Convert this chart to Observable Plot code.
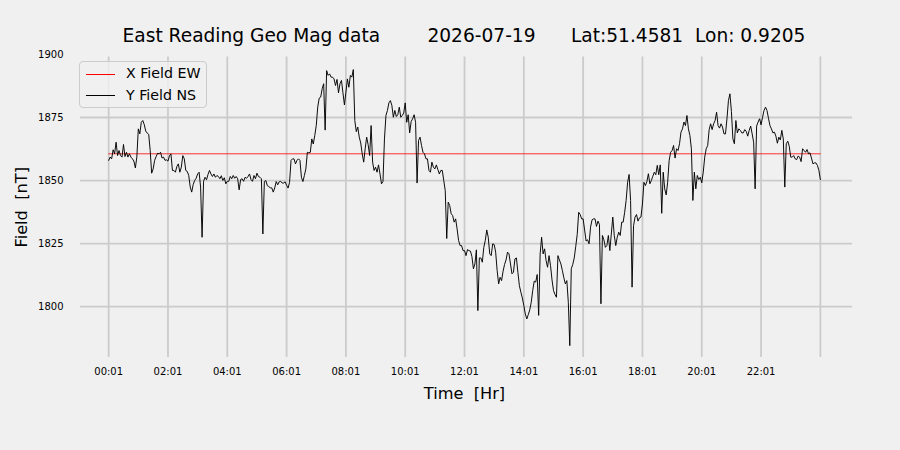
<!DOCTYPE html>
<html>
<head>
<meta charset="utf-8">
<script src="https://cdn.jsdelivr.net/npm/d3@7"></script>
<script src="https://cdn.jsdelivr.net/npm/@observablehq/plot@0.6"></script>
<style>
  html, body { margin: 0; padding: 0; background: #f0f0f0; }
  #wrap { position: relative; width: 900px; height: 450px; font-family: "DejaVu Sans", sans-serif; }
  #wrap svg text { white-space: pre; }
  #legend { position: absolute; left: 79px; top: 61px; width: 128px; height: 47px; box-sizing: border-box;
            border: 1px solid #cccccc; border-radius: 4px; background: rgba(240,240,240,0.8); }
  .row { position: absolute; left: 0; height: 20px; width: 126px; }
  .sw { position: absolute; left: 6px; width: 29px; top: 9.5px; height: 0; border-top: 1px solid; }
  .lab { position: absolute; left: 46px; top: 1px; font-size: 14.2px; line-height: 17px; color: #000; white-space: pre; }
</style>
</head>
<body>
<div id="wrap"></div>
<script>
// ---- data ----
const seriesNames = ["X Field EW", "Y Field NS"];
const seriesColors = ["#ff0000", "#000000"];
const title = "East Reading Geo Mag data        2026-07-19      Lat:51.4581  Lon: 0.9205";
const xLabel = "Time  [Hr]";
const yLabel = "Field  [nT]";

const tickMinutes = [1, 121, 241, 361, 481, 601, 721, 841, 961, 1081, 1201, 1321, 1441];
const tickLabels = ["00:01", "02:01", "04:01", "06:01", "08:01", "10:01", "12:01", "14:01", "16:01", "18:01", "20:01", "22:01", ""];
const yTicks = [1800, 1825, 1850, 1875, 1900];
const yGrid = [1800, 1825, 1850, 1875];

// X Field EW (constant over the day)
const xFieldMinutes = [1, 1441];
const xFieldEW = [1860.6, 1860.6];

// Y Field NS, one reading every 3 minutes starting 00:01
const yStartMinute = 1;
const yStepMinutes = 3;
const yFieldNS = [
1858.0,1859.3,1858.6,1862.2,1860.6,1865.2,1859.9,1861.9,1859.9,1859.3,
1864.3,1859.5,1861.2,1859.3,1860.6,1859.3,1858.6,1857.7,1855.0,1859.3,
1870.5,1868.5,1873.1,1873.8,1872.2,1869.6,1868.8,1868.3,1861.9,1852.9,
1854.6,1858.0,1859.5,1860.8,1860.6,1861.2,1858.9,1859.3,1858.0,1858.2,
1857.7,1859.8,1860.6,1854.0,1854.0,1853.3,1855.6,1856.6,1853.3,1855.3,
1859.9,1858.6,1854.0,1853.6,1852.0,1847.4,1845.4,1848.4,1850.0,1850.9,
1852.6,1853.3,1847.4,1827.5,1849.7,1851.3,1850.3,1852.4,1854.0,1852.6,
1851.6,1852.6,1851.3,1852.0,1851.6,1850.7,1851.9,1850.0,1851.1,1848.7,
1849.7,1849.7,1851.6,1850.7,1852.0,1850.9,1851.6,1850.7,1846.3,1850.4,
1850.7,1849.7,1851.3,1850.9,1851.6,1852.6,1850.4,1849.7,1852.0,1850.7,
1852.9,1851.6,1851.3,1850.7,1828.8,1849.6,1850.0,1848.0,1847.6,1847.1,
1847.1,1845.4,1847.1,1849.6,1848.3,1849.5,1849.7,1849.0,1849.0,1849.5,
1848.1,1847.0,1849.3,1858.0,1858.6,1858.6,1856.6,1858.0,1858.6,1858.0,
1851.3,1849.6,1852.0,1854.6,1861.2,1861.0,1861.2,1866.5,1864.5,1867.9,
1871.8,1879.1,1882.7,1883.1,1886.4,1888.4,1870.0,1893.6,1891.7,1892.3,
1891.0,1891.0,1890.3,1887.7,1890.1,1884.8,1888.4,1889.7,1884.8,1880.0,
1885.0,1890.3,1887.0,1891.7,1891.0,1894.0,1873.8,1869.4,1871.2,1867.2,
1864.9,1860.6,1857.3,1862.6,1867.2,1864.2,1859.9,1871.8,1857.3,1854.0,
1855.3,1853.3,1856.2,1852.6,1848.7,1849.6,1866.5,1875.8,1877.8,1880.8,
1881.7,1879.8,1875.1,1877.8,1875.4,1876.1,1879.1,1875.1,1875.8,1876.8,
1880.8,1873.1,1876.1,1868.9,1873.4,1874.5,1876.1,1873.1,1849.0,1865.9,
1867.2,1863.9,1861.2,1860.6,1858.6,1858.6,1854.0,1853.3,1857.3,1855.3,
1854.6,1856.2,1854.4,1852.6,1854.0,1854.0,1850.0,1846.0,1827.0,1841.4,
1840.1,1836.8,1836.1,1833.5,1834.8,1830.8,1826.2,1824.2,1824.2,1822.2,
1822.2,
1820.2,1822.6,1822.2,1822.0,1819.8,1815.0,1816.9,1822.5,1798.4,1819.3,
1819.3,1817.6,1823.5,1826.2,1830.4,1827.5,1820.9,1820.2,1824.9,1824.6,
1821.6,1814.3,1809.0,1811.6,1810.3,1814.0,1816.7,1818.5,1821.6,1820.9,
1816.9,1813.0,1813.6,1818.9,1819.3,1813.6,1808.3,1805.7,1803.4,1800.4,
1797.1,1795.1,1796.8,1798.7,1801.7,1806.4,1810.1,1809.7,1812.7,1796.5,
1820.9,1827.5,1820.9,1822.9,1818.3,1815.6,1820.2,1816.3,1810.6,1806.4,
1804.8,1803.7,1820.2,1818.5,1816.9,1814.3,1811.4,1809.0,1810.3,1801.7,
1784.5,1815.0,1816.7,1819.3,1823.8,1828.6,1837.4,1836.5,1834.8,1834.8,
1830.4,1826.0,1826.5,1824.9,1831.5,1834.4,1834.8,1834.8,1831.8,1833.9,
1832.6,1801.1,1828.2,1826.5,1823.5,1824.2,1828.2,1822.2,1828.8,1835.5,
1828.2,1824.2,1827.5,1829.5,1828.2,1833.5,1833.5,1837.4,1842.1,1849.3,
1852.4,1842.1,1807.7,1832.1,1835.5,1836.5,1833.9,1835.2,1835.5,1840.7,
1849.3,1848.0,
1849.6,1852.7,1848.7,1850.0,1851.7,1853.3,1852.3,1856.0,1852.3,1856.2,
1837.0,1853.3,1846.7,1844.3,1849.3,1857.9,1861.2,1861.9,1863.9,1858.9,
1862.6,1861.9,1864.6,1869.2,1870.5,1873.2,1871.8,1875.8,1870.5,1867.9,
1862.6,1842.1,1853.3,1846.7,1852.0,1850.4,1851.3,1849.1,1853.3,1859.3,
1862.6,1863.9,1870.2,1872.5,1870.2,1872.5,1873.8,1877.1,1871.8,1870.8,
1872.5,1871.2,1868.5,1868.5,1874.5,1881.7,1884.4,1877.4,1866.5,1864.6,
1873.8,1868.9,1870.5,1869.9,1868.9,1868.9,1870.2,1869.5,1867.6,1869.9,
1871.6,1868.5,1865.2,1846.7,1871.6,1873.2,1874.5,1872.1,1875.1,1877.8,
1879.1,1877.8,1874.7,1871.8,1870.5,1868.9,1869.2,1867.6,1864.8,1867.2,
1866.1,1869.9,1866.5,1847.4,1864.6,1865.6,1863.6,1859.3,1859.3,1859.9,
1858.6,1858.3,1859.7,1859.3,1857.5,1862.6,1861.9,1861.2,1862.3,1860.6,
1861.0,1858.9,1856.6,1857.0,1857.0,1856.0,1854.0,1850.4
];

// ---- tables ----
const yTable = yFieldNS.map((v, i) => ({t: yStartMinute + i * yStepMinutes, v}));
const xTable = xFieldEW.map((v, i) => ({t: xFieldMinutes[i], v}));
const labelMap = new Map(tickMinutes.map((m, i) => [m, tickLabels[i]]));

const gridStyle = {stroke: "#cbcbcb", strokeOpacity: 1, strokeWidth: 1.8};
const font = "DejaVu Sans";

const chart = Plot.plot({
  width: 900,
  height: 450,
  marginLeft: 80,
  marginRight: 48,
  marginTop: 56.5,
  marginBottom: 93,
  style: {background: "#f0f0f0", fontFamily: font, fontSize: "10px", color: "#000"},
  x: {domain: [-56, 1506], label: null},
  y: {domain: [1779.8, 1899.0], label: null},
  marks: [
    Plot.gridX(tickMinutes, gridStyle),
    Plot.gridY(yGrid, gridStyle),
    Plot.axisX(tickMinutes, {tickSize: 0, tickPadding: 10, fontSize: 10, tickFormat: d => labelMap.get(d), label: null}),
    Plot.axisY(yTicks, {tickSize: 0, tickPadding: 17, fontSize: 10, tickFormat: d => String(d), label: null}),
    Plot.line(xTable, {x: "t", y: "v", stroke: seriesColors[0], strokeWidth: 0.8}),
    Plot.line(yTable, {x: "t", y: "v", stroke: seriesColors[1], strokeWidth: 0.95}),
    Plot.text([title], {frameAnchor: "top", dy: -20.5, dx: -2.5, fontSize: 18.6, fill: "#000", textAnchor: "middle", lineAnchor: "middle", fontFamily: font}),
    Plot.text([xLabel], {frameAnchor: "bottom", dy: 36, dx: -2, fontSize: 16.2, fill: "#000", textAnchor: "middle", lineAnchor: "middle", fontFamily: font}),
    Plot.text([yLabel], {frameAnchor: "left", dx: -59, rotate: -90, fontSize: 16.2, fill: "#000", textAnchor: "middle", lineAnchor: "middle", fontFamily: font})
  ]
});

const wrap = document.getElementById("wrap");
wrap.appendChild(chart);

// legend
const legend = document.createElement("div");
legend.id = "legend";
seriesNames.forEach((name, i) => {
  const row = document.createElement("div");
  row.className = "row";
  row.style.top = (2 + i * 21.5) + "px";
  const sw = document.createElement("div");
  sw.className = "sw";
  sw.style.borderTopColor = seriesColors[i];
  const lab = document.createElement("div");
  lab.className = "lab";
  lab.textContent = name;
  row.appendChild(sw);
  row.appendChild(lab);
  legend.appendChild(row);
});
wrap.appendChild(legend);
</script>
</body>
</html>
